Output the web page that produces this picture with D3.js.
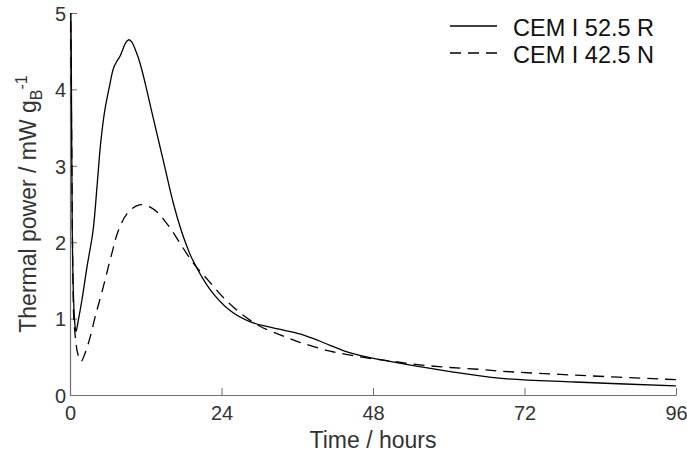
<!DOCTYPE html>
<html><head><meta charset="utf-8">
<script src="https://cdn.jsdelivr.net/npm/d3@7/dist/d3.min.js"></script>
<style>html,body{margin:0;padding:0;background:#fff;}svg{display:block;}</style>
</head><body>
<svg id="chart" width="687" height="456"></svg>
<script>
// Data (hours, mW/g_B)
const seriesNames = ["CEM I 52.5 R", "CEM I 42.5 N"];
const timeR = [0.05,0.2,0.35,0.55,0.75,0.95,1.3,1.9,2.7,3.65,4.3,4.86,5.5,6.3,6.9,7.5,7.9,8.3,8.7,9.0,9.35,9.8,10.3,10.8,11.3,12.0,13.2,14.8,16.4,17.6,18.5,19.3,22.2,25.3,28.5,31,33.8,36.4,38.5,41.2,43.5,45.9,50.7,55.4,60,68,80,96];
const powerR = [5.6,4.5,2.2,1.3,0.95,0.83,0.97,1.25,1.68,2.15,2.75,3.3,3.72,4.06,4.28,4.38,4.43,4.51,4.59,4.63,4.65,4.62,4.53,4.42,4.28,4.05,3.62,3.06,2.5,2.16,1.95,1.79,1.38,1.11,0.96,0.9,0.85,0.8,0.74,0.65,0.575,0.52,0.44,0.37,0.31,0.22,0.17,0.12];
const timeN = [0.05,0.15,0.3,0.45,0.6,0.9,1.2,1.75,2.4,3.2,4.0,5.1,6.65,7.65,9.2,11.0,12.7,14.0,15.0,16.1,17.4,19.5,21.9,24.6,27.5,30.1,33.8,36.4,41.2,45.9,50.7,55.4,60.2,65,68.6,80,96];
const powerN = [5.6,4.5,3.0,1.6,1.0,0.72,0.55,0.44,0.55,0.76,1.03,1.36,1.86,2.15,2.39,2.49,2.46,2.38,2.28,2.16,1.99,1.73,1.5,1.25,1.04,0.9,0.77,0.69,0.575,0.5,0.445,0.395,0.36,0.335,0.31,0.26,0.2];
const xTicks = [0,24,48,72,96];
const yTicks = [0,1,2,3,4,5];

const svg = d3.select("#chart");
const L = 70, R = 676, T = 13, B = 395;
const x = d3.scaleLinear().domain([0,96]).range([L,R]);
const y = d3.scaleLinear().domain([0,5]).range([B,T]);
const axisCol = "#6e6e6e", textCol = "#333";
const font = "'Liberation Sans', Arial, sans-serif";

svg.append("defs").append("clipPath").attr("id","clip")
  .append("rect").attr("x",L).attr("y",T).attr("width",R-L+1).attr("height",B-T);

// axes
const xAxis = svg.append("g").attr("transform",`translate(0,${B})`)
  .call(d3.axisBottom(x).tickValues(xTicks).tickFormat(d3.format("d")).tickSizeInner(-7).tickSizeOuter(0));
const yAxis = svg.append("g").attr("transform",`translate(${L},0)`)
  .call(d3.axisLeft(y).tickValues(yTicks).tickFormat(d3.format("d")).tickSizeInner(-7).tickSizeOuter(0).tickPadding(4));
[xAxis,yAxis].forEach(g=>{
  g.select(".domain").attr("stroke",axisCol).attr("stroke-width",1.2);
  g.selectAll(".tick line").attr("stroke",axisCol).attr("stroke-width",1);
  g.selectAll(".tick text").attr("fill",textCol).style("font-family",font).style("font-size","20px");
});
xAxis.selectAll(".tick text").attr("dy","0.71em").attr("y",11);
yAxis.selectAll(".tick text").attr("dy","0.36em");

// lines
const line = d3.line().x(d=>x(d[0])).y(d=>y(d[1])).curve(d3.curveCatmullRom.alpha(0.5));
const plot = svg.append("g").attr("clip-path","url(#clip)");
plot.append("path").datum(timeR.map((t,i)=>[t,powerR[i]]))
  .attr("d",line).attr("fill","none").attr("stroke","#000").attr("stroke-width",1.3);
plot.append("path").datum(timeN.map((t,i)=>[t,powerN[i]]))
  .attr("d",line).attr("fill","none").attr("stroke","#000").attr("stroke-width",1.3)
  .attr("stroke-dasharray","11,7");

// axis labels
svg.append("text").attr("x",(L+R)/2).attr("y",448).attr("text-anchor","middle")
  .attr("fill",textCol).style("font-family",font).style("font-size","23px").text("Time / hours");
const yl = svg.append("text").attr("transform",`translate(36,${(T+B)/2}) rotate(-90)`)
  .attr("text-anchor","middle").attr("fill",textCol).style("font-family",font).style("font-size","23px");
yl.append("tspan").text("Thermal power / mW g");
yl.append("tspan").attr("dy",6).style("font-size","16px").text("B");
yl.append("tspan").attr("dy",-15).style("font-size","16px").text("-1");

// legend
const leg = svg.append("g");
const legY = [26,53];
seriesNames.forEach((n,i)=>{
  leg.append("line").attr("x1",450).attr("x2",497).attr("y1",legY[i]).attr("y2",legY[i])
    .attr("stroke","#000").attr("stroke-width",1.3).attr("stroke-dasharray", i===1?"11,7":null);
  leg.append("text").attr("x",513).attr("y",legY[i]+10).attr("fill","#111")
    .style("font-family",font).style("font-size","23.5px").text(n);
});
</script>
</body></html>
